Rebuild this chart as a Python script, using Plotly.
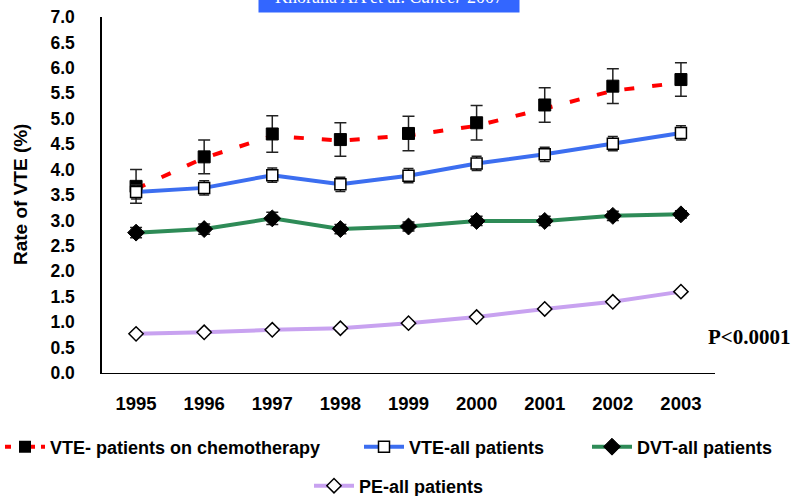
import plotly.graph_objects as go

years = ["1995", "1996", "1997", "1998", "1999", "2000", "2001", "2002", "2003"]

chemo_rate = [3.67, 4.25, 4.70, 4.59, 4.71, 4.92, 5.27, 5.64, 5.77]
chemo_err = [0.33, 0.33, 0.36, 0.33, 0.34, 0.34, 0.34, 0.34, 0.33]
chemo_trend = [3.62, 4.23, 4.66, 4.57, 4.67, 4.86, 5.20, 5.55, 5.71]

vte_all = [3.56, 3.64, 3.89, 3.71, 3.88, 4.12, 4.30, 4.51, 4.72]
vte_all_err = [0.14, 0.14, 0.14, 0.14, 0.14, 0.14, 0.14, 0.14, 0.14]

dvt_all = [2.76, 2.83, 3.04, 2.83, 2.88, 2.99, 2.99, 3.09, 3.12]
dvt_all_err = [0.10, 0.10, 0.12, 0.09, 0.09, 0.09, 0.09, 0.09, 0.07]

pe_all = [0.77, 0.80, 0.85, 0.88, 0.98, 1.10, 1.26, 1.40, 1.60]
pe_all_err = [0.05, 0.05, 0.05, 0.05, 0.05, 0.05, 0.05, 0.05, 0.05]

series_names = ["VTE- patients on chemotherapy", "VTE-all patients", "DVT-all patients", "PE-all patients"]
y_title = "Rate of VTE (%)"
source_text = "Khorana AA et al. <i>Cancer</i> 2007"
p_text = "P&lt;0.0001"

RED = "#FF0000"
BLUE = "#3C6EF0"
GREEN = "#2E8B57"
LAV = "#C8A2F0"
ERR = "#222222"

fig = go.Figure()

# chemo trend line (dashed red)
fig.add_trace(go.Scatter(x=years, y=chemo_trend, mode="lines",
                         line=dict(color=RED, width=4, dash="10px,18px"),
                         showlegend=False, hoverinfo="skip"))
# chemo observed points with error bars
fig.add_trace(go.Scatter(x=years, y=chemo_rate, mode="markers",
                         marker=dict(symbol="square", size=12, color="black",
                                     line=dict(color="black", width=1)),
                         error_y=dict(type="data", array=chemo_err, color=ERR, thickness=1.5, width=6),
                         showlegend=False))
# VTE-all
fig.add_trace(go.Scatter(x=years, y=vte_all, mode="lines+markers", name=series_names[1],
                         line=dict(color=BLUE, width=4),
                         marker=dict(symbol="square", size=11, color="white",
                                     line=dict(color="black", width=1.5)),
                         error_y=dict(type="data", array=vte_all_err, color=ERR, thickness=1.5, width=5),
                         legend="legend2"))
# DVT-all
fig.add_trace(go.Scatter(x=years, y=dvt_all, mode="lines+markers", name=series_names[2],
                         line=dict(color=GREEN, width=4),
                         marker=dict(symbol="diamond", size=13, color="black",
                                     line=dict(color="black", width=1)),
                         error_y=dict(type="data", array=dvt_all_err, color=ERR, thickness=1.5, width=6),
                         legend="legend3"))
# PE-all
fig.add_trace(go.Scatter(x=years, y=pe_all, mode="lines+markers", name=series_names[3],
                         line=dict(color=LAV, width=4),
                         marker=dict(symbol="diamond", size=11, color="white",
                                     line=dict(color="black", width=1.5)),
                         error_y=dict(type="data", array=pe_all_err, color=ERR, thickness=1.2, width=5),
                         legend="legend4"))
# legend entry for chemo series
fig.add_trace(go.Scatter(x=[None], y=[None], mode="lines+markers", name=series_names[0],
                         line=dict(color=RED, width=4, dash="6px,18px,6px"),
                         marker=dict(symbol="square", size=12, color="black"),
                         legend="legend"))

legend_font = dict(family="Arial, Liberation Sans, sans-serif", size=18, color="black", weight="bold")


def lg(x, y):
    return dict(xref="container", yref="container", x=x, y=y, xanchor="left", yanchor="middle",
                orientation="h", font=legend_font, itemwidth=40, bgcolor="rgba(0,0,0,0)",
                borderwidth=0, traceorder="normal")


fig.update_layout(
    width=793, height=496,
    margin=dict(l=102, r=78, t=17, b=123, autoexpand=False),
    paper_bgcolor="white", plot_bgcolor="white",
    font=dict(family="Arial, Liberation Sans, sans-serif", size=17.5, color="black", weight="bold"),
    xaxis=dict(type="category", range=[-0.5, 8.5], showline=True, linecolor="black", linewidth=1,
               showgrid=False, zeroline=False, ticks="outside", tickson="boundaries",
               tickcolor="white", ticklen=3, tickwidth=2, ticklabelstandoff=14, automargin=False,
               tickfont=dict(size=18.5, weight="bold")),
    yaxis=dict(range=[0, 7], dtick=0.5, tick0=0, tickformat=".1f", showline=True, linecolor="black",
               linewidth=1.5, showgrid=False, zeroline=False, ticks="", ticklabelstandoff=22,
               automargin=False, tickfont=dict(size=17.5, weight="bold")),
    legend=lg(0 / 793, 1 - 447 / 496),
    legend2=lg(359 / 793, 1 - 447 / 496),
    legend3=lg(587 / 793, 1 - 447 / 496),
    legend4=lg(309 / 793, 1 - 486 / 496),
    annotations=[
        dict(text=y_title, textangle=-90, xref="paper", yref="paper", x=(20 - 102) / 613, y=0.5,
             xanchor="center", yanchor="middle", showarrow=False,
             font=dict(size=19, weight="bold", color="black")),
        dict(text=p_text, xref="paper", yref="paper", x=(749 - 102) / 613, y=(373 - 337) / 356,
             xanchor="center", yanchor="middle", showarrow=False,
             font=dict(family="Times New Roman, Liberation Serif, serif", size=21, weight="bold", color="black")),
        dict(text=source_text, xref="paper", yref="paper", x=(389 - 102) / 613, y=(373 - 12.7) / 356,
             xanchor="center", yanchor="bottom", showarrow=False, width=250, borderpad=5,
             bgcolor="#3366FF",
             font=dict(family="Times New Roman, Liberation Serif, serif", size=18, color="white",
                       weight="normal")),
    ],
)

fig.write_html("out.html", config={"displayModeBar": False},
               post_script="document.body.style.margin='0';")
